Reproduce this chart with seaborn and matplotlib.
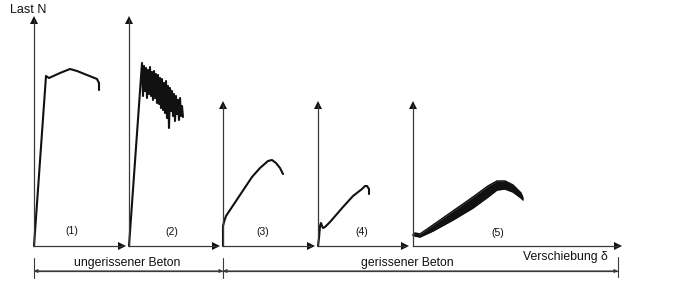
import matplotlib
matplotlib.use("Agg")
import matplotlib.pyplot as plt
import numpy as np
import pandas as pd
import seaborn as sns

# ---------------- data (δ and N in arbitrary, picture-read units) ----------------
p1_delta = [0, 12, 15, 26, 36, 43, 53, 63, 65, 65]
p1_load = [0, 170, 168, 173, 177, 175, 171, 167, 163, 156]

p2_delta = [0, 13, 14, 15, 16, 17, 18, 19, 20, 21, 22, 23, 24, 25, 26, 27, 28, 29, 30,
            31, 32, 33, 34, 35, 36, 37, 38, 39, 40, 41, 42, 43, 44, 45, 46, 47, 48,
            49, 50, 51, 52, 53, 54]
p2_load = [0, 183, 150, 180, 155, 178, 148, 176, 152, 179, 150, 174, 146, 175, 148, 172,
           143, 171, 142, 168, 138, 167, 136, 163, 133, 165, 128, 160, 118, 158, 135,
           155, 130, 152, 125, 150, 132, 146, 126, 148, 130, 140, 129]

p3_delta = [0, 0, 1, 3, 7, 17, 29, 37, 45, 49, 53, 57, 60]
p3_load = [0, 20, 24, 30, 36, 51, 69, 78, 85, 86, 83, 78, 72]

p4_delta = [0, 1, 2, 3, 4, 5, 7, 12, 25, 35, 44, 47, 49, 51, 51]
p4_load = [0, 8, 20, 23, 20, 18, 19, 24, 39, 50, 57, 60, 60, 57, 52]

p5_delta = [0, 2, 7, 20, 40, 60, 75, 84, 92, 100, 108, 110]
p5_load_upper = [11, 13, 12, 21, 35, 49, 60, 65, 65, 61, 53, 48]
p5_load_lower = [11, 10, 9, 15, 26, 38, 49, 56, 57, 54, 48, 46]

panel_labels = ["(1)", "(2)", "(3)", "(4)", "(5)"]
group_labels = ["ungerissener Beton", "gerissener Beton"]
y_title = "Last N"
x_title = "Verschiebung δ"

# ---------------- layout (pixels in a 675 x 291 picture) ----------------
W, H = 675, 291
BASE = 246
panel_left = [34, 129, 223, 318, 413]
panel_right = [122, 216, 311, 405, 618]
panel_top = [20, 20, 105, 105, 105]
label_pos = [(38, 15), (43, 14), (40, 14), (44, 14), (85, 13)]

sns.set_theme(style="white")
plt.rcParams["font.family"] = ["Liberation Sans", "DejaVu Sans"]

fig = plt.figure(figsize=(W / 100, H / 100), dpi=100)
fig.patch.set_facecolor("white")

INK = "#111111"
AXC = "#3a3a3a"

curves = [
    (p1_delta, p1_load),
    (p2_delta, p2_load),
    (p3_delta, p3_load),
    (p4_delta, p4_load),
    None,
]

for i in range(5):
    l, r, t = panel_left[i], panel_right[i], panel_top[i]
    ax = fig.add_axes([l / W, (H - BASE) / H, (r - l) / W, (BASE - t) / H])
    ax.set_xlim(0, r - l)
    ax.set_ylim(0, BASE - t)
    ax.set_facecolor("none")
    for s in ["top", "right"]:
        ax.spines[s].set_visible(False)
    for s in ["left", "bottom"]:
        ax.spines[s].set_color(AXC)
        ax.spines[s].set_linewidth(0.9)
    ax.set_xticks([])
    ax.set_yticks([])
    # arrow heads
    ax.plot([1], [0], marker=">", ms=5.5, color=INK, transform=ax.transAxes,
            clip_on=False, mew=0)
    ax.plot([0], [1], marker="^", ms=5.5, color=INK, transform=ax.transAxes,
            clip_on=False, mew=0)

    if curves[i] is not None:
        d, n = curves[i]
        df = pd.DataFrame({"delta": d, "N": n})
        sns.lineplot(data=df, x="delta", y="N", ax=ax, color=INK, lw=1.5,
                     sort=False, estimator=None)
    else:
        df = pd.DataFrame({"delta": p5_delta, "lo": p5_load_lower, "hi": p5_load_upper})
        ax.fill_between(df["delta"], df["lo"], df["hi"], color=INK, lw=0)
        sns.lineplot(data=df, x="delta", y="hi", ax=ax, color=INK, lw=1.1,
                     sort=False, estimator=None)
        sns.lineplot(data=df, x="delta", y="lo", ax=ax, color=INK, lw=1.1,
                     sort=False, estimator=None)
    for ln in ax.lines:
        ln.set_clip_on(False)
    ax.set_xlabel("")
    ax.set_ylabel("")
    ax.text(label_pos[i][0], label_pos[i][1], panel_labels[i], ha="center",
            va="center", fontsize=7.5, color=INK)

# ---------------- overlay for titles and bracket ----------------
ov = fig.add_axes([0, 0, 1, 1])
ov.set_xlim(0, W)
ov.set_ylim(H, 0)
ov.axis("off")
ov.set_facecolor("none")

ov.text(28, 10, y_title, ha="center", va="center", fontsize=9, color=INK)
ov.text(565, 257, x_title, ha="center", va="center", fontsize=8.8, color=INK)

BR_Y = 271
left_end = panel_left[0]
mid = panel_left[2]
right_end = panel_right[4]
ov.plot([left_end, right_end], [BR_Y, BR_Y], color=AXC, lw=0.9)
for xx, (y0, y1) in [(left_end, (258, 278)), (mid, (258, 278)), (right_end, (257, 277))]:
    ov.plot([xx, xx], [y0, y1], color=AXC, lw=0.8)
for a, b in [(left_end, mid), (mid, right_end)]:
    ov.annotate("", xy=(a, BR_Y), xytext=(b, BR_Y),
                arrowprops=dict(arrowstyle="<|-|>", color=AXC, lw=0.8,
                                mutation_scale=5, shrinkA=0, shrinkB=0))

ov.text((left_end + mid) / 2 - 1, 263, group_labels[0], ha="center", va="center",
        fontsize=8.8, color=INK)
ov.text(407, 263, group_labels[1], ha="center", va="center", fontsize=8.8, color=INK)

fig.savefig("out.png", dpi=100, facecolor="white")
